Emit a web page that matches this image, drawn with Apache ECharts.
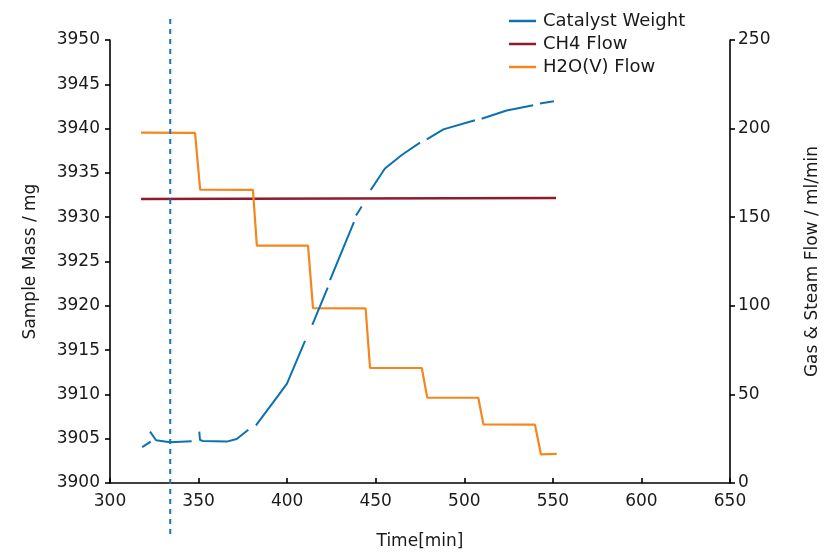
<!DOCTYPE html>
<html>
<head>
<meta charset="utf-8">
<script src="https://cdn.jsdelivr.net/npm/echarts@6/dist/echarts.min.js"></script>
<style>
  html, body { margin: 0; padding: 0; background: #fff; }
  #chart { width: 835px; height: 555px; }
</style>
</head>
<body>
<div id="chart"></div>
<script>
// Catalyst weight [time min, mass mg]; null breaks mark gaps in the record
const catalystWeight = [
  [318.2, 3904.04], [323.0, 3904.67], null,
  [322.6, 3905.80], [326.0, 3904.82], [333.9, 3904.60], [346.1, 3904.71], null,
  [350.4, 3905.80], [350.8, 3904.85], [352.5, 3904.74], [365.9, 3904.67], [371.5, 3904.97], [378.1, 3906.02], null,
  [382.4, 3906.50], [394.1, 3909.64], [399.9, 3911.21], [410.1, 3916.03], null,
  [414.2, 3917.86], [422.9, 3922.05], null,
  [424.2, 3922.90], [437.7, 3929.45], null,
  [438.9, 3930.19], [442.1, 3931.20], null,
  [447.2, 3933.07], [455.2, 3935.50], [464.9, 3937.05], [475.0, 3938.42], null,
  [478.8, 3938.79], [488.2, 3939.91], [506.0, 3940.95], null,
  [509.8, 3941.11], [523.9, 3942.04], [538.9, 3942.63], null,
  [542.7, 3942.83], [550.6, 3943.08]
];

// CH4 flow [time min, ml/min]
const ch4Flow = [[317.5, 160.3], [551.8, 160.8]];

// Steam flow [time min, ml/min], stepped down in stages
const h2oFlow = [
  [317.5, 197.7], [348.0, 197.6], [350.9, 165.6], [380.7, 165.4],
  [382.9, 134.0], [411.8, 134.0], [414.6, 98.7], [444.3, 98.5],
  [446.8, 64.9], [476.0, 64.9], [479.1, 48.2], [507.9, 48.1],
  [510.8, 33.1], [539.9, 32.9], [543.3, 16.1], [552.2, 16.4]
];

// Marker time and its vertical span on a hidden 0..1 axis
const markerTime = 334.0;
const markerSpan = [-0.115, 1.052];

const timeTicks = { min: 300, max: 650, interval: 50 };
const massTicks = { min: 3900, max: 3950, interval: 5 };
const flowTicks = { min: 0, max: 250, interval: 50 };

const FONT = 'DejaVu Sans';
const TEXT = '#1a1a1a';
const axisLineStyle = { color: '#000', width: 1.6 };
const plain = v => String(v);

const chart = echarts.init(document.getElementById('chart'), null, { renderer: 'canvas' });

chart.setOption({
  animation: false,
  backgroundColor: '#fff',
  textStyle: { fontFamily: FONT },
  grid: { left: 110, right: 105, top: 40, bottom: 69, containLabel: false },
  legend: {
    left: 504, top: 7, orient: 'vertical',
    icon: 'rect', itemWidth: 27, itemHeight: 2.5, itemGap: 5,
    textStyle: { fontFamily: FONT, fontSize: 18, color: TEXT, padding: [0, 0, 0, 2] },
    data: ['Catalyst Weight', 'CH4 Flow', 'H2O(V) Flow']
  },
  xAxis: {
    type: 'value',
    min: timeTicks.min, max: timeTicks.max, interval: timeTicks.interval,
    name: 'Time[min]', nameLocation: 'middle', nameGap: 50,
    nameTextStyle: { fontFamily: FONT, fontSize: 17, color: TEXT },
    axisLine: { show: true, onZero: false, lineStyle: axisLineStyle },
    axisTick: { show: true, inside: true, length: 5, lineStyle: axisLineStyle },
    axisLabel: { fontFamily: FONT, fontSize: 17, color: TEXT, margin: 10, formatter: plain },
    splitLine: { show: false }
  },
  yAxis: [
    {
      type: 'value', position: 'left',
      min: massTicks.min, max: massTicks.max, interval: massTicks.interval,
      name: 'Sample Mass / mg', nameLocation: 'middle', nameGap: 71,
      nameTextStyle: { fontFamily: FONT, fontSize: 17, color: TEXT },
      axisLine: { show: true, onZero: false, lineStyle: axisLineStyle },
      axisTick: { show: true, inside: false, length: 5, lineStyle: axisLineStyle },
      axisLabel: { fontFamily: FONT, fontSize: 17, color: TEXT, margin: 10, formatter: plain },
      splitLine: { show: false }
    },
    {
      type: 'value', position: 'right',
      min: flowTicks.min, max: flowTicks.max, interval: flowTicks.interval,
      name: 'Gas & Steam Flow / ml/min', nameLocation: 'middle', nameGap: 74,
      nameRotate: 90,
      nameTextStyle: { fontFamily: FONT, fontSize: 17, color: TEXT },
      axisLine: { show: true, onZero: false, lineStyle: axisLineStyle },
      axisTick: { show: true, inside: false, length: 5, lineStyle: axisLineStyle },
      axisLabel: { fontFamily: FONT, fontSize: 17, color: TEXT, margin: 8, formatter: plain },
      splitLine: { show: false }
    },
    {
      type: 'value', min: 0, max: 1, show: false
    }
  ],
  series: [
    {
      name: 'Catalyst Weight', type: 'line', yAxisIndex: 0,
      data: catalystWeight, symbol: 'none', connectNulls: false,
      lineStyle: { color: '#0c71b3', width: 2 }, itemStyle: { color: '#0c71b3' },
      z: 3
    },
    {
      name: 'CH4 Flow', type: 'line', yAxisIndex: 1,
      data: ch4Flow, symbol: 'none',
      lineStyle: { color: '#8e1b2e', width: 2.4 }, itemStyle: { color: '#8e1b2e' },
      z: 2
    },
    {
      name: 'H2O(V) Flow', type: 'line', yAxisIndex: 1,
      data: h2oFlow, symbol: 'none',
      lineStyle: { color: '#f5861f', width: 2.2 }, itemStyle: { color: '#f5861f' },
      z: 2
    },
    {
      name: 'marker', type: 'line', yAxisIndex: 2, clip: false,
      data: markerSpan.map(v => [markerTime, v]), symbol: 'none',
      lineStyle: { color: '#1577bb', width: 2, type: [5, 5] },
      silent: true, z: 4
    }
  ]
});
</script>
</body>
</html>
